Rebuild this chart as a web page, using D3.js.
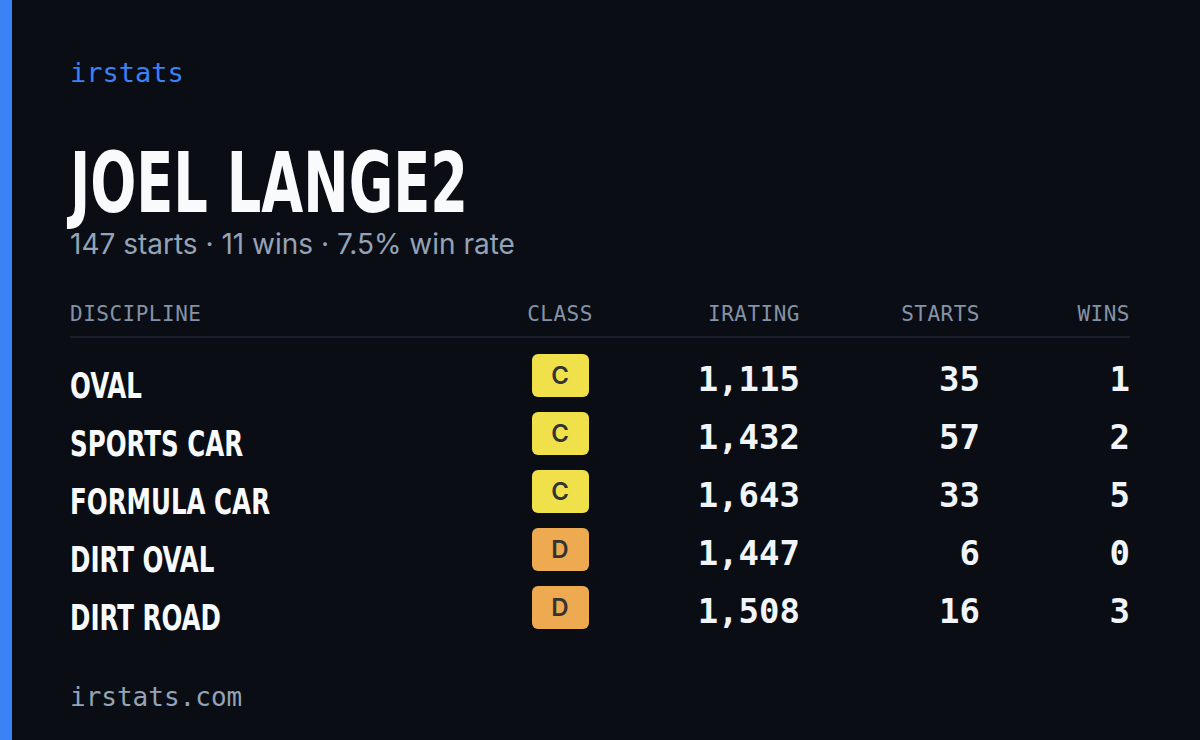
<!DOCTYPE html>
<html><head><meta charset="utf-8">
<script src="https://cdn.jsdelivr.net/npm/d3@7"></script>
<style>body{margin:0;background:#0a0d14;}</style>
</head><body><div id="card"></div>
<script>
// data
let driver = "JOEL LANGE2";
let summary = "147 starts · 11 wins · 7.5% win rate";
let columns = ["DISCIPLINE", "CLASS", "IRATING", "STARTS", "WINS"];
let disciplines = ["OVAL", "SPORTS CAR", "FORMULA CAR", "DIRT OVAL", "DIRT ROAD"];
let classes = ["C", "C", "C", "D", "D"];
let iratings = [1115, 1432, 1643, 1447, 1508];
let starts = [35, 57, 33, 6, 16];
let wins = [1, 2, 5, 0, 3];

let svgWidth = 1200, svgHeight = 740;
let mono = "'DejaVu Sans Mono', 'Liberation Mono', monospace";
let narrow = "'Liberation Sans Narrow', 'DejaVu Sans Condensed', sans-serif";
let classColor = {C: "#f0e14a", D: "#eeaa50"};

let svg = d3.select("#card").append("svg")
  .attr("width", svgWidth).attr("height", svgHeight);

svg.append("rect").attr("width", svgWidth).attr("height", svgHeight).attr("fill", "#0a0d14");
svg.append("rect").attr("width", 12).attr("height", svgHeight).attr("fill", "#3b82f6");

svg.append("text").attr("x", 70).attr("y", 82)
  .attr("font-family", mono).attr("font-size", 27).attr("fill", "#3b82f6").text("irstats");

svg.append("text").attr("x", 70).attr("y", 212)
  .attr("font-family", narrow).attr("font-weight", "bold").attr("font-size", 84)
  .attr("fill", "#f8fafc").attr("textLength", 398).attr("lengthAdjust", "spacingAndGlyphs")
  .text(driver);

svg.append("text").attr("x", 70).attr("y", 254)
  .attr("font-family", "Inter, 'Noto Sans', sans-serif").attr("font-size", 28)
  .attr("fill", "#94a3b8").text(summary);

// column positions
let colX = [70, 560, 800, 980, 1130];
let anchors = ["start", "middle", "end", "end", "end"];

svg.selectAll(".hdr").data(columns).enter().append("text")
  .attr("x", (d, i) => colX[i]).attr("y", 321)
  .attr("text-anchor", (d, i) => anchors[i])
  .attr("font-family", mono).attr("font-size", 21).attr("letter-spacing", 0.5)
  .attr("fill", "#8492a8").text(d => d);

svg.append("line").attr("x1", 70).attr("x2", 1130).attr("y1", 337).attr("y2", 337)
  .attr("stroke", "#1a1f2b").attr("stroke-width", 2);

let y = d3.scaleBand().domain(d3.range(disciplines.length)).range([347, 637]);
let fmt = d3.format(",");

let rows = svg.selectAll(".row").data(disciplines).enter().append("g")
  .attr("transform", (d, i) => `translate(0, ${y(i)})`);

rows.append("text").attr("transform", "translate(70, 51) scale(0.78, 1)")
  .attr("font-family", narrow).attr("font-weight", "bold").attr("font-size", 35)
  .attr("fill", "#f8fafc").text(d => d);

rows.append("rect").attr("x", 532).attr("y", 7).attr("width", 57).attr("height", 43).attr("rx", 6)
  .attr("fill", (d, i) => classColor[classes[i]]);
rows.append("text").attr("x", 560).attr("y", 37).attr("text-anchor", "middle")
  .attr("font-family", "Inter, 'Noto Sans', sans-serif").attr("font-weight", 600).attr("font-size", 24)
  .attr("fill", "#333333").text((d, i) => classes[i]);

[iratings.map(fmt), starts, wins].forEach((vals, k) => {
  rows.append("text").attr("x", colX[k + 2]).attr("y", 44).attr("text-anchor", "end")
    .attr("font-family", mono).attr("font-weight", "bold").attr("font-size", 34)
    .attr("fill", "#f1f5f9").text((d, i) => vals[i]);
});

svg.append("text").attr("x", 70).attr("y", 706)
  .attr("font-family", mono).attr("font-size", 26).attr("fill", "#94a3b8").text("irstats.com");
</script></body></html>
